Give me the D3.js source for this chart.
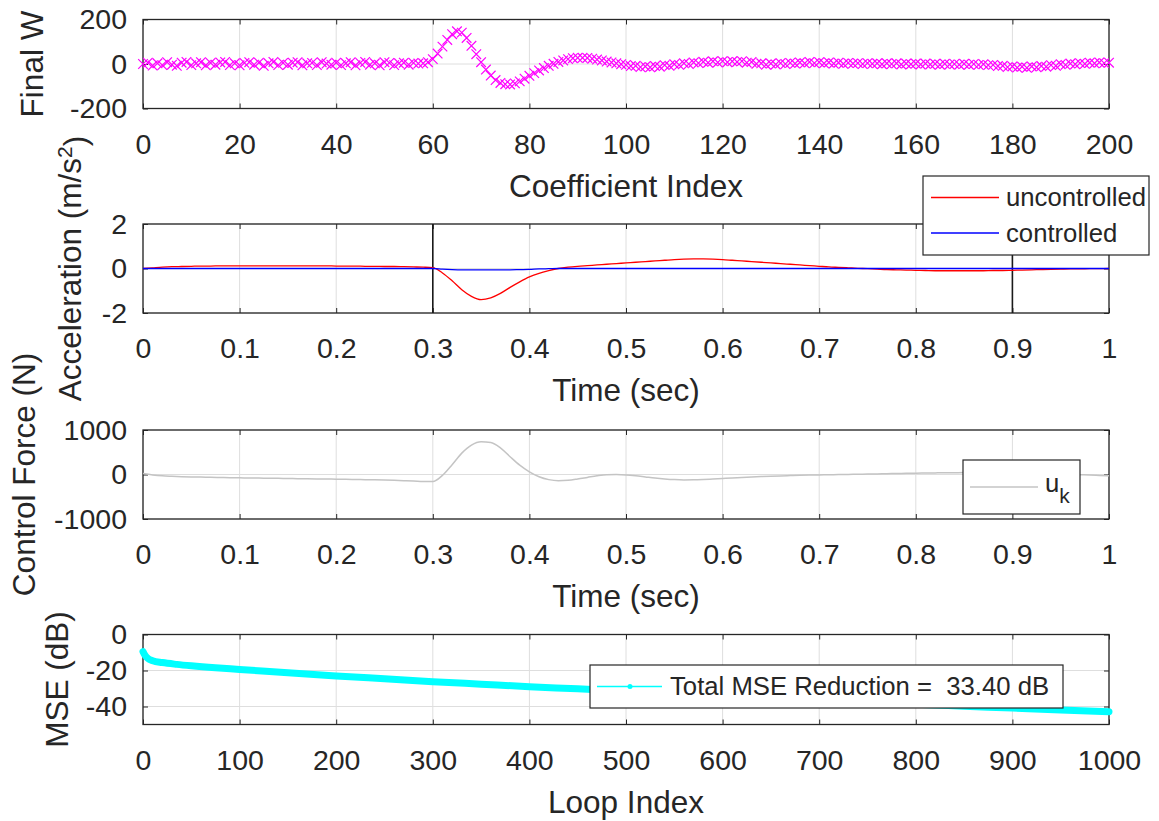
<!DOCTYPE html>
<html lang="en">
<head>
<meta charset="utf-8">
<title>Adaptive control results</title>
<script src="https://d3js.org/d3.v7.min.js"></script>
<style>
  body { margin: 0; background: #fff; }
  svg text { font-family: "Liberation Sans", Arial, Helvetica, sans-serif; fill: #262626; }
</style>
</head>
<body>
<div id="chart"></div>
<script>
// ---- values ----

// final filter weights, coefficient index 0..200
var finalW = [
  0, 6, -7, 3, -5, 8, -3, -8, 6, 9, -5, 3, 8, -6, 5, -3, 7, 9, -5, 3,
  -6, 5, 8, -3, 6, -8, 3, 9, -5, 5, -3, 6, 8, -6, 3, 5, -5, 8, 2, -3,
  6, -5, 3, 8, -6, 5, 9, -3, 3, -6, 8, 5, -5, 3, 6, -3, 5, 2, 3, 8,
  22, 47, 78, 108, 134, 147, 141, 117, 82, 44, 8, -25, -52, -72, -85, -91, -92, -87, -78, -66,
  -53, -41, -29, -18, -8, 1, 9, 16, 22, 26, 28, 28, 27, 24, 20, 16, 11, 7, 3, -1,
  -4, -9, -8, -14, -11, -15, -9, -12, -5, -8, -1, -4, 3, 0, 7, 4, 10, 6, 12, 7,
  13, 8, 12, 9, 13, 6, 9, 1, 3, -3, 2, -2, 4, 0, 5, 2, 7, 3, 9, 4,
  8, 3, 7, 2, 6, 1, 5, 2, 4, 0, 4, 1, 3, -1, 3, 0, 3, -2, 2, -1,
  2, -2, 2, -2, 1, -3, 1, -2, 0, -3, 1, -3, 0, -4, -1, -5, -4, -9, -8, -14,
  -11, -16, -12, -17, -11, -15, -9, -12, -5, -8, -1, -4, 2, -1, 4, 1, 6, 3, 7, 4,
  6
];

// sample times (sec)
var timeSec = [
  0, 0.01, 0.02, 0.03, 0.04, 0.05, 0.06, 0.07, 0.08, 0.09,
  0.1, 0.11, 0.12, 0.13, 0.14, 0.15, 0.16, 0.17, 0.18, 0.19,
  0.2, 0.21, 0.22, 0.23, 0.24, 0.25, 0.26, 0.27, 0.28, 0.29,
  0.3, 0.31, 0.32, 0.33, 0.34, 0.35, 0.36, 0.37, 0.38, 0.39,
  0.4, 0.41, 0.42, 0.43, 0.44, 0.45, 0.46, 0.47, 0.48, 0.49,
  0.5, 0.51, 0.52, 0.53, 0.54, 0.55, 0.56, 0.57, 0.58, 0.59,
  0.6, 0.61, 0.62, 0.63, 0.64, 0.65, 0.66, 0.67, 0.68, 0.69,
  0.7, 0.71, 0.72, 0.73, 0.74, 0.75, 0.76, 0.77, 0.78, 0.79,
  0.8, 0.81, 0.82, 0.83, 0.84, 0.85, 0.86, 0.87, 0.88, 0.89,
  0.9, 0.91, 0.92, 0.93, 0.94, 0.95, 0.96, 0.97, 0.98, 0.99, 1
];

// acceleration (m/s^2)
var accUncontrolled = [
  0, 0.03, 0.06, 0.08, 0.09, 0.10, 0.11, 0.11, 0.12, 0.12,
  0.12, 0.12, 0.12, 0.12, 0.12, 0.12, 0.12, 0.12, 0.12, 0.12,
  0.11, 0.11, 0.11, 0.10, 0.10, 0.09, 0.09, 0.08, 0.07, 0.06,
  0.04, -0.2, -0.55, -0.95, -1.25, -1.4, -1.32, -1.12, -0.85, -0.6,
  -0.38, -0.22, -0.1, 0.0, 0.06, 0.1, 0.13, 0.16, 0.19, 0.22,
  0.25, 0.28, 0.31, 0.34, 0.37, 0.4, 0.42, 0.43, 0.43, 0.42,
  0.40, 0.37, 0.34, 0.31, 0.28, 0.25, 0.22, 0.19, 0.16, 0.13,
  0.10, 0.07, 0.05, 0.03, 0.01, -0.01, -0.03, -0.05, -0.06, -0.07,
  -0.08, -0.09, -0.1, -0.1, -0.1, -0.1, -0.1, -0.1, -0.09, -0.09,
  -0.08, -0.07, -0.06, -0.05, -0.04, -0.03, -0.02, -0.02, -0.01, -0.01, 0
];
var accControlled = [
  0, 0, 0, 0, 0, 0, 0, 0, 0, 0,
  0, 0, 0, 0, 0, 0, 0, 0, 0, 0,
  0, 0, 0, 0, 0, 0, 0, 0, 0, 0,
  0, -0.03, -0.05, -0.06, -0.06, -0.06, -0.06, -0.06, -0.06, -0.05,
  -0.04, -0.02, -0.01, 0, 0, 0, 0, 0, 0, 0,
  0, 0, 0, 0, 0, 0, 0, 0, 0, 0,
  0, 0, 0, 0, 0, 0, 0, 0, 0, 0,
  0, 0, 0, 0, 0, 0, 0, 0, 0, 0,
  0, 0, 0, 0, 0, 0, 0, 0, 0, 0,
  0, 0, 0, 0, 0, 0, 0, 0, 0, 0, 0
];

// control force u_k (N)
var controlForce = [
  20, -10, -30, -40, -48, -54, -58, -64, -68, -72,
  -75, -78, -81, -84, -87, -90, -93, -96, -99, -102,
  -105, -108, -112, -116, -120, -125, -131, -138, -146, -158,
  -160, -20, 220, 480, 660, 735, 720, 600, 400, 210,
  60, -50, -115, -140, -130, -100, -65, -30, -5, 0,
  -10, -30, -55, -80, -100, -115, -122, -120, -112, -100,
  -88, -76, -65, -55, -46, -38, -31, -25, -19, -14,
  -10, -6, -2, 2, 6, 10, 14, 18, 22, 26,
  30, 33, 36, 39, 41, 43, 44, 45, 45, 44,
  42, 38, 33, 27, 20, 12, 4, -5, -14, -22, -30
];

// learning curve
var loopIndex = [0, 2, 5, 10, 20, 35, 50, 75, 100, 150, 200, 250, 300, 350, 400,
  450, 500, 550, 600, 650, 700, 750, 800, 850, 900, 950, 1000];
var mseDb = [-9.5, -11.5, -13.3, -14.6, -15.6, -16.6, -17.4, -18.5, -19.4, -21.3, -23.0, -24.6, -26.2, -27.6, -29.0,
  -30.2, -31.5, -32.7, -33.9, -35.1, -36.3, -37.5, -38.7, -39.8, -40.9, -42.0, -42.9];

// vertical markers on the acceleration plot
var eventTimes = [0.3, 0.9];

// ticks
var coefTicks = [0, 20, 40, 60, 80, 100, 120, 140, 160, 180, 200];
var timeTicks = [0, 0.1, 0.2, 0.3, 0.4, 0.5, 0.6, 0.7, 0.8, 0.9, 1];
var loopTicks = [0, 100, 200, 300, 400, 500, 600, 700, 800, 900, 1000];

// ---- layout ----
var W = 1159, H = 821;
var plotLeft = 143, plotRight = 1109;
var tickFont = "28.5px", labelFont = "31.5px", legendFont = "25.7px";
var ink = "#262626", gridColor = "#dedede";

var svg = d3.select("#chart")
  .append("svg")
    .attr("width", W)
    .attr("height", H);

svg.append("rect").attr("width", W).attr("height", H).attr("fill", "#fff");

// draws grid, box, ticks and labels of one subplot and returns its scales
function makePanel(p) {
  var g = svg.append("g");
  var x = d3.scaleLinear().domain(p.xDomain).range([plotLeft, plotRight]);
  var y = d3.scaleLinear().domain(p.yDomain).range([p.bottom, p.top]);

  // grid
  g.selectAll(".vgrid")
    .data(p.xTicks)
    .enter()
    .append("line")
      .attr("x1", function(d) { return x(d); })
      .attr("x2", function(d) { return x(d); })
      .attr("y1", p.top)
      .attr("y2", p.bottom)
      .attr("stroke", gridColor)
      .attr("stroke-width", 1);
  g.selectAll(".hgrid")
    .data(p.yTicks)
    .enter()
    .append("line")
      .attr("x1", plotLeft)
      .attr("x2", plotRight)
      .attr("y1", function(d) { return y(d); })
      .attr("y2", function(d) { return y(d); })
      .attr("stroke", gridColor)
      .attr("stroke-width", 1);

  function clean(sel) {
    sel.select(".domain").remove();
    sel.attr("color", ink).attr("font-size", null).attr("font-family", null);
    sel.selectAll("text").style("font-size", tickFont);
  }

  g.append("g")
    .attr("transform", "translate(0," + p.bottom + ")")
    .call(d3.axisBottom(x).tickValues(p.xTicks).tickSize(-5).tickPadding(25)
      .tickFormat(function(d) { return String(d); }))
    .call(clean);
  g.append("g")
    .attr("transform", "translate(0," + p.top + ")")
    .call(d3.axisTop(x).tickValues(p.xTicks).tickSize(-5).tickFormat(""))
    .call(clean);
  g.append("g")
    .attr("transform", "translate(" + plotLeft + ",0)")
    .call(d3.axisLeft(y).tickValues(p.yTicks).tickSize(-5).tickPadding(16)
      .tickFormat(function(d) { return String(d); }))
    .call(clean);
  g.append("g")
    .attr("transform", "translate(" + plotRight + ",0)")
    .call(d3.axisRight(y).tickValues(p.yTicks).tickSize(-5).tickFormat(""))
    .call(clean);

  g.append("rect")
    .attr("x", plotLeft)
    .attr("y", p.top)
    .attr("width", plotRight - plotLeft)
    .attr("height", p.bottom - p.top)
    .attr("fill", "none")
    .attr("stroke", ink)
    .attr("stroke-width", 1.3);

  // x label
  g.append("text")
    .attr("x", (plotLeft + plotRight) / 2)
    .attr("y", p.bottom + 88)
    .attr("text-anchor", "middle")
    .style("font-size", labelFont)
    .text(p.xLabel);

  // y label
  var yl = g.append("text")
    .attr("transform", "translate(" + p.yLabelX + "," + ((p.top + p.bottom) / 2) + ")rotate(-90)")
    .attr("text-anchor", "middle")
    .style("font-size", labelFont);
  p.yLabel(yl);

  return {g: g, x: x, y: y};
}

// ---- panel 1: final weights ----
var p1 = makePanel({
  top: 19.5, bottom: 108.5, xDomain: [0, 200], yDomain: [-200, 200],
  xTicks: coefTicks, yTicks: [-200, 0, 200],
  xLabel: "Coefficient Index", yLabelX: 43,
  yLabel: function(t) { t.text("Final W"); }
});

var mk = 4.8;
p1.g.selectAll(".wmark")
  .data(finalW)
  .enter()
  .append("path")
    .attr("d", function(d, i) {
      var cx = p1.x(i), cy = p1.y(d);
      return "M" + (cx - mk) + "," + (cy - mk) + "L" + (cx + mk) + "," + (cy + mk) +
             "M" + (cx - mk) + "," + (cy + mk) + "L" + (cx + mk) + "," + (cy - mk);
    })
    .attr("stroke", "#ff00ff")
    .attr("stroke-width", 1.2)
    .attr("fill", "none");

// ---- panel 2: acceleration ----
var p2 = makePanel({
  top: 224, bottom: 313, xDomain: [0, 1], yDomain: [-2, 2],
  xTicks: timeTicks, yTicks: [-2, 0, 2],
  xLabel: "Time (sec)", yLabelX: 81,
  yLabel: function(t) {
    t.append("tspan").text("Acceleration (m/s");
    t.append("tspan").attr("dy", "-0.45em").style("font-size", "21px").text("2");
    t.append("tspan").attr("dy", "0.45em").text(")");
  }
});

p2.g.selectAll(".event")
  .data(eventTimes)
  .enter()
  .append("line")
    .attr("x1", function(d) { return p2.x(d); })
    .attr("x2", function(d) { return p2.x(d); })
    .attr("y1", 224)
    .attr("y2", 313)
    .attr("stroke", "#1a1a1a")
    .attr("stroke-width", 1.6);

var accLine = function(vals) {
  return d3.line()
    .x(function(d, i) { return p2.x(timeSec[i]); })
    .y(function(d) { return p2.y(d); })
    .curve(d3.curveMonotoneX)(vals);
};
p2.g.append("path").attr("d", accLine(accUncontrolled))
  .attr("fill", "none").attr("stroke", "#ff0000").attr("stroke-width", 1.3);
p2.g.append("path").attr("d", accLine(accControlled))
  .attr("fill", "none").attr("stroke", "#0000ff").attr("stroke-width", 1.3);

// legend
var lg2 = svg.append("g");
lg2.append("rect").attr("x", 923).attr("y", 176).attr("width", 226).attr("height", 79)
  .attr("fill", "#fff").attr("stroke", ink).attr("stroke-width", 1.2);
[["uncontrolled", "#ff0000", 197.5], ["controlled", "#0000ff", 233]].forEach(function(e) {
  lg2.append("line").attr("x1", 931).attr("x2", 999).attr("y1", e[2]).attr("y2", e[2])
    .attr("stroke", e[1]).attr("stroke-width", 1.3);
  lg2.append("text").attr("x", 1006).attr("y", e[2]).attr("dy", "0.35em")
    .style("font-size", legendFont).text(e[0]);
});

// ---- panel 3: control force ----
var p3 = makePanel({
  top: 430, bottom: 519, xDomain: [0, 1], yDomain: [-1000, 1000],
  xTicks: timeTicks, yTicks: [-1000, 0, 1000],
  xLabel: "Time (sec)", yLabelX: 35,
  yLabel: function(t) { t.text("Control Force (N)"); }
});

p3.g.append("path")
  .attr("d", d3.line()
    .x(function(d, i) { return p3.x(timeSec[i]); })
    .y(function(d) { return p3.y(d); })
    .curve(d3.curveMonotoneX)(controlForce))
  .attr("fill", "none").attr("stroke", "#c4c4c4").attr("stroke-width", 1.5);

var lg3 = svg.append("g");
lg3.append("rect").attr("x", 963).attr("y", 460).attr("width", 117).attr("height", 54)
  .attr("fill", "#fff").attr("stroke", ink).attr("stroke-width", 1.2);
lg3.append("line").attr("x1", 970).attr("x2", 1038).attr("y1", 487).attr("y2", 487)
  .attr("stroke", "#c4c4c4").attr("stroke-width", 1.5);
var ukText = lg3.append("text").attr("x", 1045).attr("y", 492).style("font-size", legendFont);
ukText.append("tspan").text("u");
ukText.append("tspan").attr("dy", 11).style("font-size", "21px").text("k");

// ---- panel 4: MSE ----
var p4 = makePanel({
  top: 634.5, bottom: 724.5, xDomain: [0, 1000], yDomain: [-50, 0],
  xTicks: loopTicks, yTicks: [-40, -20, 0],
  xLabel: "Loop Index", yLabelX: 68,
  yLabel: function(t) { t.text("MSE (dB)"); }
});

p4.g.append("path")
  .attr("d", d3.line()
    .x(function(d, i) { return p4.x(loopIndex[i]); })
    .y(function(d) { return p4.y(d); })
    .curve(d3.curveMonotoneX)(mseDb))
  .attr("fill", "none").attr("stroke", "#00ffff").attr("stroke-width", 7)
  .attr("stroke-linecap", "round");

var lg4 = svg.append("g");
lg4.append("rect").attr("x", 590).attr("y", 665).attr("width", 473).attr("height", 43)
  .attr("fill", "#fff").attr("stroke", ink).attr("stroke-width", 1.2);
lg4.append("line").attr("x1", 597).attr("x2", 662).attr("y1", 686.5).attr("y2", 686.5)
  .attr("stroke", "#00ffff").attr("stroke-width", 1.3);
lg4.append("circle").attr("cx", 630).attr("cy", 686.5).attr("r", 2.5).attr("fill", "#00ffff");
lg4.append("text").attr("x", 670).attr("y", 686.5).attr("dy", "0.35em")
  .style("font-size", legendFont)
  .attr("xml:space", "preserve")
  .text("Total MSE Reduction =  33.40 dB");
</script>
</body>
</html>
